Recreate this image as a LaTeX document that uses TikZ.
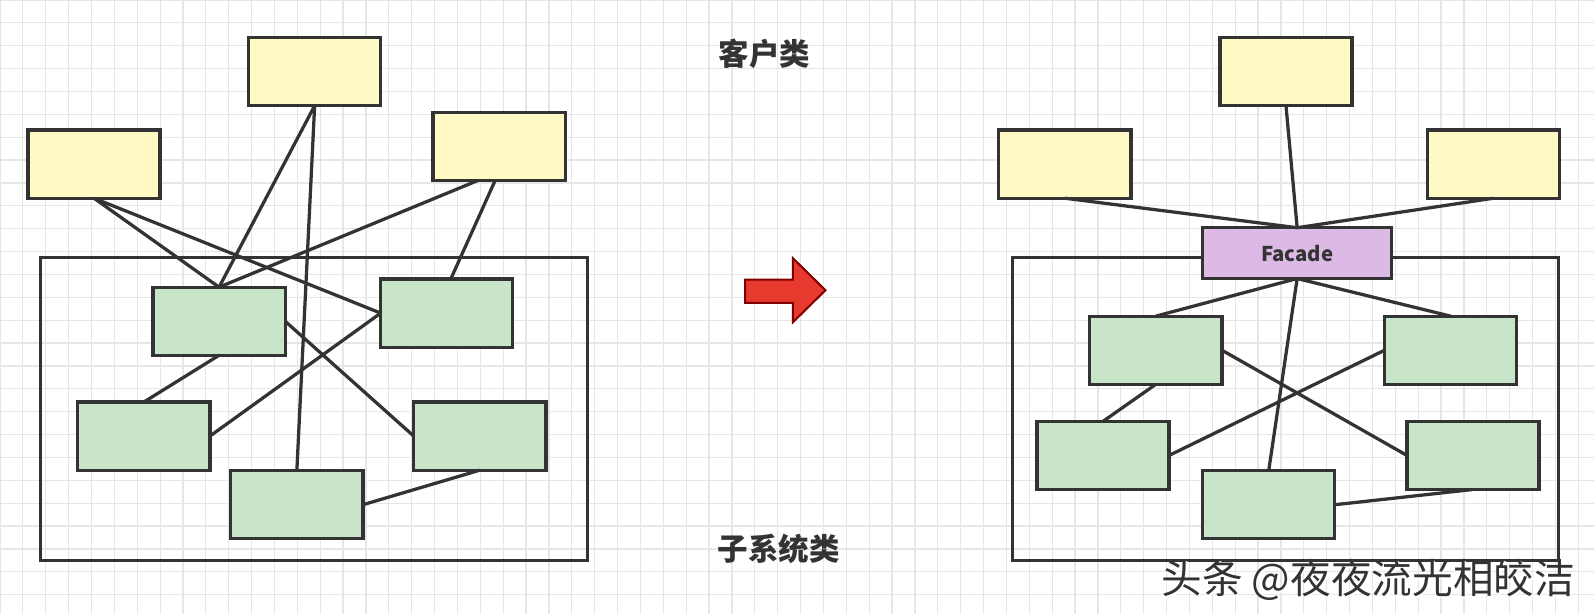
\documentclass[tikz,border=0pt]{standalone}
\usepackage{fontspec}
\usetikzlibrary{calc}
\newfontfamily\cjk{Noto Sans CJK SC}
\definecolor{ylw}{HTML}{FFF9C6}
\definecolor{grn}{HTML}{C8E4C9}
\definecolor{fac}{HTML}{DDB9E6}
\definecolor{edge}{HTML}{333333}
\definecolor{gridc}{HTML}{E6E6E6}
\definecolor{arr}{HTML}{E8392E}
\begin{document}
\begin{tikzpicture}[x=0.5pt,y=-0.5pt,
  box/.style={draw=edge,line width=1.6pt,inner sep=0,outer sep=0,minimum width=65pt,minimum height=33.5pt},
  ybox/.style={box,fill=ylw},
  gbox/.style={box,fill=grn},
  conn/.style={draw=edge,line width=1.6pt},
  lbl/.style={font=\cjk\bfseries\fontsize{15}{15}\selectfont,text=edge}]
\useasboundingbox (0,0) rectangle (1568,604);
\fill[white] (0,0) rectangle (1568,604);
\foreach \i in {0,...,70} \draw[gridc,line width=0.6pt] ({\i*22.5},0) -- ({\i*22.5},604);
\foreach \i in {0,...,27} \draw[gridc,line width=0.6pt] (0,{\i*22.5}) -- (1568,{\i*22.5});
% left
\node[draw=edge,line width=1.6pt,minimum width=269pt,minimum height=149pt,inner sep=0] (LF) at (309,402) {};
\node[ybox] (LA) at (309.5,70.5) {};
\node[ybox] (LB) at (92.5,161.5) {};
\node[ybox] (LC) at (491,144) {};
\node[gbox] (L1) at (215.5,316) {};
\node[gbox] (L2) at (439.5,308) {};
\node[gbox] (L3) at (141.5,429) {};
\node[gbox] (L4) at (472,429) {};
\node[gbox] (L5) at (292,496.5) {};
\draw[conn] (LA.south) -- (L1.north);
\draw[conn] (LB.south) -- (L1.north);
\draw[conn] (LB.south) -- (L2.west);
\draw[conn] ($(LC.south west)!0.34!(LC.south east)$) -- (L1.north);
\draw[conn] ($(LC.south west)!0.47!(LC.south east)$) -- ($(L2.north west)!0.53!(L2.north east)$);
\draw[conn] (LA.south) -- (L5.north);
\draw[conn] (L1.south) -- (L3.north);
\draw[conn] (L3.east) -- (L2.west);
\draw[conn] (L1.east) -- (L4.west);
\draw[conn] (L5.east) -- (L4.south);
% middle
\node[lbl] (T1) at (752,53) {客户类};
\node[lbl] (T2) at (766,540) {子系统类};
\filldraw[fill=arr,draw=red!50!black,line width=1pt] (733,275) -- (780,275) -- (780,254) -- (812,285.5) -- (780,317) -- (780,298) -- (733,298) -- cycle;
% right
\node[draw=edge,line width=1.6pt,minimum width=268.5pt,minimum height=149pt,inner sep=0] (RF) at (1264.5,402) {};
\node[ybox] (RA) at (1265,70.5) {};
\node[ybox] (RB) at (1047.5,161.5) {};
\node[ybox] (RC) at (1469,161.5) {};
\node[box,fill=fac,minimum width=93pt,minimum height=25pt,font=\cjk\bfseries\fontsize{10}{10}\selectfont,text=edge] (FA) at (1276,249) {Facade};
\node[gbox] (R1) at (1137,344.5) {};
\node[gbox] (R2) at (1427,344.5) {};
\node[gbox] (R3) at (1085,448) {};
\node[gbox] (R4) at (1449,448) {};
\node[gbox] (R5) at (1248,496.5) {};
\draw[conn] (RA.south) -- (FA.north);
\draw[conn] (RB.south) -- (FA.north);
\draw[conn] (RC.south) -- (FA.north);
\draw[conn] (FA.south) -- (R1.north);
\draw[conn] (FA.south) -- (R2.north);
\draw[conn] (FA.south) -- (R5.north);
\draw[conn] (R1.south) -- (R3.north);
\draw[conn] (R1.east) -- (R4.west);
\draw[conn] (R3.east) -- (R2.west);
\draw[conn] (R5.east) -- (R4.south);
\node[font=\cjk\fontsize{20}{20}\selectfont,text=white] at (1347.5,572) {头条 @夜夜流光相皎洁};
\node[font=\cjk\fontsize{20}{20}\selectfont,text=edge] (WM) at (1346,570.5) {头条 @夜夜流光相皎洁};
\end{tikzpicture}
\end{document}
